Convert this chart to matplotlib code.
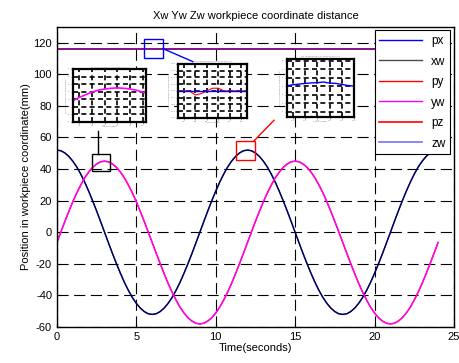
import numpy as np
import matplotlib
matplotlib.use('Agg')
import matplotlib.pyplot as plt
from matplotlib.patches import Rectangle

plt.rcParams['font.family'] = ['Liberation Sans', 'DejaVu Sans']
plt.rcParams['axes.unicode_minus'] = False

# sampled every 0.25 s over one 12 s period, the run covers two periods (0..24 s)
t = np.arange(0, 24.25, 0.25)
xw_period = [52.0, 51.6, 50.2, 48.0, 45.0, 41.3, 36.8, 31.7, 26.0, 19.9, 13.5, 6.8,
             0.0, -6.8, -13.5, -19.9, -26.0, -31.7, -36.8, -41.3, -45.0, -48.0, -50.2, -51.6,
             -52.0, -51.6, -50.2, -48.0, -45.0, -41.3, -36.8, -31.7, -26.0, -19.9, -13.5, -6.8,
             0.0, 6.8, 13.5, 19.9, 26.0, 31.7, 36.8, 41.3, 45.0, 48.0, 50.2, 51.6]
yw_period = [-6.5, 0.2, 6.8, 13.2, 19.3, 24.9, 29.9, 34.4, 38.1, 41.1, 43.2, 44.6,
             45.0, 44.6, 43.2, 41.1, 38.1, 34.4, 29.9, 24.9, 19.3, 13.2, 6.8, 0.2,
             -6.5, -13.2, -19.8, -26.2, -32.3, -37.9, -42.9, -47.4, -51.1, -54.1, -56.2, -57.6,
             -58.0, -57.6, -56.2, -54.1, -51.1, -47.4, -42.9, -37.9, -32.3, -26.2, -19.8, -13.2]
xw = np.array(xw_period * 2 + [52.0])
yw = np.array(yw_period * 2 + [-6.5])
px = xw.copy()
py = yw.copy()
zw = np.full(len(t), 116.0)
pz = np.full(len(t), 116.0)

# zoomed samples
t1 = [2.3, 2.4, 2.5, 2.6, 2.7, 2.8, 2.9, 3.0, 3.1, 3.2, 3.3, 3.45]
yw1 = [41.6, 42.5, 43.2, 43.9, 44.4, 44.7, 44.9, 45.0, 44.9, 44.7, 44.4, 43.6]
t2 = [5.5, 5.7, 5.8, 5.9, 6.0, 6.1, 6.2, 6.3, 6.4, 6.5, 6.7]
zw2 = [116.0, 116.0, 116.0, 116.0, 116.0, 116.0, 116.0, 116.0, 116.0, 116.0, 116.0]
pz2 = [116.0, 116.0, 115.7, 115.8, 116.0, 116.2, 116.2, 116.0, 116.0, 116.0, 116.0]
t3 = [11.5, 11.6, 11.7, 11.8, 11.9, 12.0, 12.1, 12.2, 12.3, 12.4, 12.5, 12.6]
xw3 = [50.2, 50.8, 51.2, 51.6, 51.9, 52.0, 52.4, 51.8, 51.6, 51.0, 50.4, 50.0]

fig = plt.figure(figsize=(4.59, 3.63), dpi=100)
ax = fig.add_axes([0.124, 0.099, 0.865, 0.827])

ax.plot(t, px, color='blue', lw=1.0, label='px')
ax.plot(t, xw, color='black', lw=1.0, alpha=0.7, label='xw')
ax.plot(t, py, color='red', lw=1.0, label='py')
ax.plot(t, yw, color='#ff00ff', lw=1.0, label='yw')
ax.plot(t, pz, color='red', lw=1.2, label='pz')
ax.plot(t, zw, color='blue', lw=1.2, alpha=0.55, label='zw')

ax.set_xlim(0, 25)
ax.set_ylim(-60, 130)
ax.set_xticks([0, 5, 10, 15, 20, 25])
ax.set_yticks(range(-60, 121, 20))
ax.grid(True, color='black', ls=(0, (10, 5)), lw=0.8)
ax.tick_params(labelsize=8, direction='in', length=3)
for s in ax.spines.values():
    s.set_linewidth(1.0)
ax.set_title('Xw Yw Zw workpiece coordinate distance', fontsize=8, pad=6)
ax.set_xlabel('Time(seconds)', fontsize=8, labelpad=1)
ax.set_ylabel('Position in workpiece coordinate(mm)', fontsize=8, labelpad=2)

leg = ax.legend(loc='upper right', fontsize=8.5, frameon=True, fancybox=False,
                framealpha=1, edgecolor='black', handlelength=3.6,
                borderaxespad=0.3, labelspacing=0.72)
leg.get_frame().set_linewidth(0.8)

# zoom boxes and leader lines (data coordinates of the main axes)
boxes = [((2.2, 39), 1.15, 10.5, 'black', [(2.58, 49.5), (2.58, 64)]),
         ((5.48, 110.6), 1.2, 11.9, 'blue', [(6.68, 116.2), (8.56, 108)]),
         ((11.27, 45.7), 1.2, 12.0, 'red', [(12.4, 57.7), (13.67, 70.9)])]
for (x0, y0), w, h, c, seg in boxes:
    ax.add_patch(Rectangle((x0, y0), w, h, fill=False, edgecolor=c, lw=1.0, zorder=5))
    ax.plot([seg[0][0], seg[1][0]], [seg[0][1], seg[1][1]], color=c, lw=1.0, zorder=5)


def inset(rect, xlim, ylim):
    a = fig.add_axes(rect)
    a.set_xlim(*xlim)
    a.set_ylim(*ylim)
    a.grid(True, color='black', ls=(0, (3, 2)), lw=1.2)
    a.tick_params(labelsize=1.5, length=1.5, width=0.5, colors='#777777', pad=0.5)
    for s in a.spines.values():
        s.set_linewidth(1.6)
    a.set_title('Xw Yw Zw workpiece coordinate distance', fontsize=1.5, color='#777777', pad=1)
    a.set_xlabel('Time(seconds)', fontsize=1.5, color='#777777', labelpad=0.5)
    a.set_ylabel('Position in workpiece coordinate(mm)', fontsize=1.5, color='#777777', labelpad=0.5)
    return a


a1 = inset([0.159, 0.664, 0.159, 0.146], (2.3, 3.45), (36, 50))
a1.plot(t1, yw1, color='#ff00ff', lw=1.2)

a2 = inset([0.388, 0.675, 0.150, 0.149], (5.5, 6.7), (114, 118))
a2.plot(t2, pz2, color='red', lw=0.8)
a2.plot(t2, zw2, color='blue', lw=1.0)

a3 = inset([0.625, 0.678, 0.146, 0.160], (11.5, 12.6), (32, 66))
a3.plot(t3, xw3, color='blue', lw=1.0)

fig.savefig('out.png', dpi=100)
